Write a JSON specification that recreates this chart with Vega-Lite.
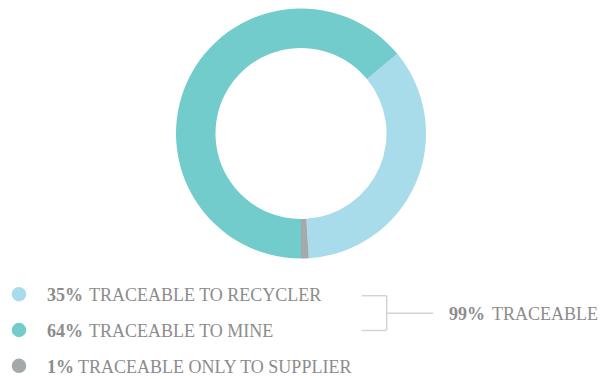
{
  "$schema": "https://vega.github.io/schema/vega-lite/v6.json",
  "padding": 0,
  "spacing": 0,
  "background": "white",
  "config": {"view": {"stroke": null}, "concat": {"spacing": 0}},
  "datasets": {
    "slices": [
      {"category": "Recycler", "pct": "35%", "label": "TRACEABLE TO RECYCLER", "value": 35},
      {"category": "Mine", "pct": "64%", "label": "TRACEABLE TO MINE", "value": 64},
      {"category": "Supplier", "pct": "1%", "label": "TRACEABLE ONLY TO SUPPLIER", "value": 1}
    ],
    "total": [
      {"pct": "99%", "label": "TRACEABLE", "from": "Recycler", "to": "Mine"}
    ]
  },
  "vconcat": [
    {
      "width": 602,
      "height": 267,
      "data": {"name": "slices"},
      "mark": {"type": "arc", "radius": 125, "radius2": 85.5, "stroke": null},
      "encoding": {
        "theta": {"field": "value", "type": "quantitative", "stack": true, "scale": {"range": [3.14159, 9.42478]}},
        "order": {"field": "value", "sort": "descending"},
        "color": {
          "field": "category", "type": "nominal", "legend": null,
          "scale": {"domain": ["Recycler", "Mine", "Supplier"], "range": ["#a8dcea", "#72cccb", "#a4a9ab"]}
        }
      }
    },
    {
      "width": 602,
      "height": 112,
      "layer": [
        {
          "data": {"name": "slices"},
          "mark": {"type": "point", "filled": true, "opacity": 1, "size": 210, "shape": "circle"},
          "encoding": {
            "x": {"value": 19},
            "y": {"field": "category", "type": "nominal", "axis": null,
                  "scale": {"type": "point", "padding": 0, "domain": ["Recycler", "Mine", "Supplier"], "range": [27.2, 98.8]}},
            "color": {"field": "category", "type": "nominal", "legend": null}
          }
        },
        {
          "data": {"name": "slices"},
          "mark": {"type": "text", "align": "left", "baseline": "middle", "font": "Liberation Serif, serif", "fontSize": 18, "fontWeight": "bold", "color": "#8c8c8c", "dy": 2},
          "encoding": {
            "x": {"value": 47},
            "y": {"field": "category", "type": "nominal", "axis": null},
            "text": {"field": "pct"}
          }
        },
        {
          "data": {"name": "slices"},
          "mark": {"type": "text", "align": "left", "baseline": "middle", "font": "Liberation Serif, serif", "fontSize": 18, "color": "#8c8c8c", "dy": 2},
          "encoding": {
            "x": {"field": "value", "type": "quantitative", "axis": null,
                  "scale": {"domain": [1, 10, 64], "range": [78, 89, 89], "clamp": true}},
            "y": {"field": "category", "type": "nominal", "axis": null},
            "text": {"field": "label"}
          }
        },
        {
          "data": {"name": "total"},
          "mark": {"type": "rule", "color": "#d4d4d4", "strokeWidth": 1.5, "yOffset": 1.5},
          "encoding": {
            "x": {"value": 386.7},
            "y": {"field": "from", "type": "nominal", "axis": null},
            "y2": {"field": "to"}
          }
        },
        {
          "data": {"name": "total"},
          "mark": {"type": "rule", "color": "#d4d4d4", "strokeWidth": 1.5, "yOffset": 1.5},
          "encoding": {
            "x": {"value": 361.7},
            "x2": {"value": 386.7},
            "y": {"field": "from", "type": "nominal", "axis": null}
          }
        },
        {
          "data": {"name": "total"},
          "mark": {"type": "rule", "color": "#d4d4d4", "strokeWidth": 1.5, "yOffset": 0.5},
          "encoding": {
            "x": {"value": 361.7},
            "x2": {"value": 386.7},
            "y": {"field": "to", "type": "nominal", "axis": null}
          }
        },
        {
          "data": {"name": "total"},
          "mark": {"type": "rule", "color": "#d4d4d4", "strokeWidth": 1.5, "yOffset": 19},
          "encoding": {
            "x": {"value": 386.7},
            "x2": {"value": 433.3},
            "y": {"field": "from", "type": "nominal", "axis": null}
          }
        },
        {
          "data": {"name": "total"},
          "mark": {"type": "text", "align": "left", "baseline": "middle", "font": "Liberation Serif, serif", "fontSize": 18, "fontWeight": "bold", "color": "#8c8c8c", "dy": 21},
          "encoding": {
            "x": {"value": 449},
            "y": {"field": "from", "type": "nominal", "axis": null},
            "text": {"field": "pct"}
          }
        },
        {
          "data": {"name": "total"},
          "mark": {"type": "text", "align": "left", "baseline": "middle", "font": "Liberation Serif, serif", "fontSize": 18, "color": "#8c8c8c", "dy": 21},
          "encoding": {
            "x": {"value": 492},
            "y": {"field": "from", "type": "nominal", "axis": null},
            "text": {"field": "label"}
          }
        }
      ]
    }
  ]
}
